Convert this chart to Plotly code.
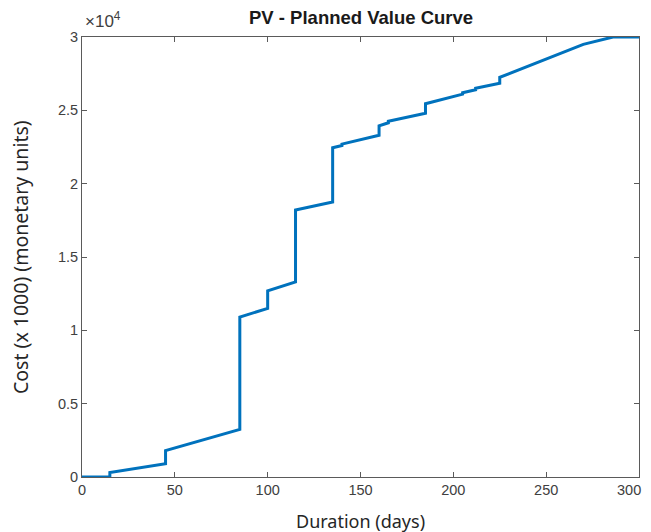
import plotly.graph_objects as go

# Planned value curve (days vs cost)
days = [0, 15, 15, 45, 45, 85, 85, 100, 100, 115, 115, 135, 135, 140, 140,
        160, 160, 165, 165, 185, 185, 205, 205, 212, 212, 225, 225, 270, 286, 300]
cost = [0, 0, 300, 900, 1800, 3250, 10900, 11500, 12700, 13300, 18200, 18750,
        22450, 22600, 22700, 23300, 23950, 24150, 24250, 24800, 25450, 26100,
        26200, 26400, 26500, 26850, 27250, 29500, 30000, 30000]

x_ticks = [0, 50, 100, 150, 200, 250, 300]
x_tick_labels = ["0", "50", "100", "150", "200", "250", "300"]
y_ticks = [0, 5000, 10000, 15000, 20000, 25000, 30000]
y_tick_labels = ["0", "0.5", "1", "1.5", "2", "2.5", "3"]

axis_color = "#5a5a5a"
tick_font = dict(family="Liberation Sans, Arial", size=14.5, color="#404040")
label_font = dict(family="Noto Sans, Open Sans", size=18, color="#262626")

fig = go.Figure()
fig.add_trace(go.Scatter(x=days, y=cost, mode="lines",
                         line=dict(color="#0072BD", width=3),
                         showlegend=False, hoverinfo="skip"))

# last x tick label is drawn right-aligned so it stays inside the page edge
shown_x_labels = x_tick_labels[:-1] + [""]

# The page body adds an 8px offset, so the figure is sized to the remaining area
fig.update_layout(
    width=643, height=524,
    margin=dict(l=74, r=12, t=29, b=55, autoexpand=False),
    paper_bgcolor="white", plot_bgcolor="white",
    xaxis=dict(range=[0, 300], tickvals=x_ticks, ticktext=shown_x_labels,
               showgrid=False, zeroline=False,
               automargin=False, ticklabeloverflow="allow",
               showline=True, linecolor=axis_color, linewidth=1, mirror="ticks",
               ticks="inside", ticklen=5, tickcolor=axis_color, tickfont=tick_font),
    yaxis=dict(range=[0, 30000], tickvals=y_ticks, ticktext=y_tick_labels,
               showgrid=False, zeroline=False, automargin=False,
               ticklabeloverflow="allow",
               showline=True, linecolor=axis_color, linewidth=1, mirror="ticks",
               ticks="inside", ticklen=5, tickcolor=axis_color, tickfont=tick_font),
    annotations=[
        dict(text=x_tick_labels[-1], xref="x", yref="paper",
             x=x_ticks[-1], y=0, xanchor="right", yanchor="middle",
             xshift=4, yshift=-13, showarrow=False, font=tick_font),
        dict(text="<b>PV - Planned Value Curve</b>", xref="paper", yref="paper",
             x=0.5, y=1, yanchor="middle", yshift=20, showarrow=False,
             font=dict(family="Liberation Sans, Arial", size=18.5, color="#1a1a1a")),
        dict(text="×10<sup>4</sup>", xref="paper", yref="paper",
             x=0, y=1, xanchor="left", yanchor="middle", xshift=1, yshift=17,
             showarrow=False, font=dict(family="Liberation Sans, Arial", size=17,
                                        color="#404040")),
        dict(text="Duration (days)", xref="paper", yref="paper",
             x=0.5, y=0, yanchor="middle", yshift=-44, showarrow=False,
             font=label_font),
        dict(text="Cost (x 1000) (monetary units)", xref="paper", yref="paper",
             x=0, y=0.5, xanchor="center", yanchor="middle", xshift=-62,
             textangle=-90, showarrow=False,
             font=dict(family="Noto Sans, Open Sans", size=19.5, color="#262626")),
    ],
)

fig.write_html("out.html")
